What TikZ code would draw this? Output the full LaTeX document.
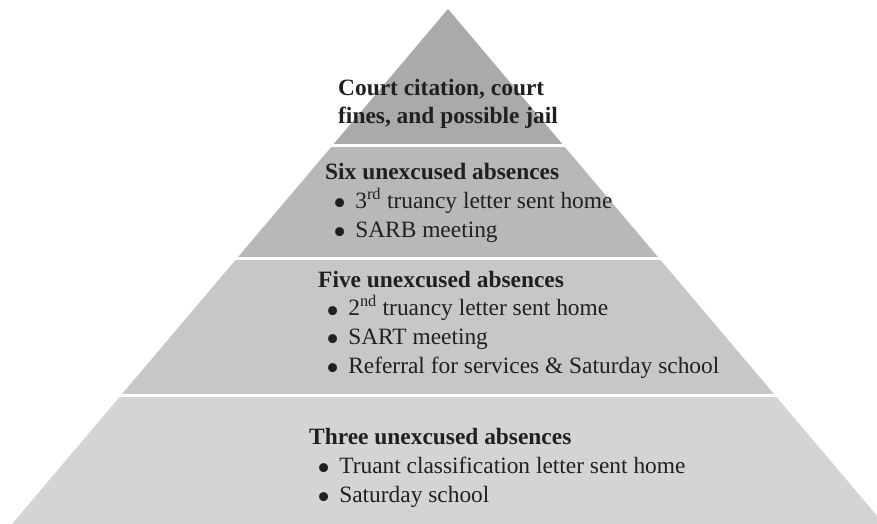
\documentclass[tikz,border=0pt]{standalone}
\usepackage{fontspec}
\setmainfont{Liberation Serif}
\definecolor{tierone}{RGB}{169,170,172}
\definecolor{tiertwo}{RGB}{183,184,186}
\definecolor{tierthree}{RGB}{198,199,201}
\definecolor{tierfour}{RGB}{211,212,214}
\definecolor{inktext}{RGB}{35,31,32}
\tikzset{tiertext/.style={anchor=base west, align=left, inner sep=0pt, text=inktext,
  font=\fontsize{23.4}{28.6}\selectfont}}
\newcommand{\pbullet}{\hspace*{8pt}\smash{\raisebox{-7.5pt}{\scalebox{1.6}{\textbullet}}}\hspace{9pt}}
\begin{document}
\begin{tikzpicture}[x=1pt,y=-1pt]
\useasboundingbox (0,0) rectangle (877,524);
% pyramid bands
\begin{scope}
\clip (448,9)--(12,524)--(884,524)--cycle;
\fill[tierone] (0,0) rectangle (877,144);
\fill[tiertwo] (0,147) rectangle (877,256.5);
\fill[tierthree] (0,259.5) rectangle (877,393.5);
\fill[tierfour] (0,396.5) rectangle (877,530);
\end{scope}
% texts (base = last line)
\node[tiertext, font=\fontsize{23.4}{28}\selectfont\bfseries] (court) at (338,123)
  {Court citation, court\\fines, and possible jail};
\node[tiertext] (six) at (325,237)
  {\textbf{Six unexcused absences}\\
   \pbullet 3\textsuperscript{rd} truancy letter sent home\\
   \pbullet SARB meeting};
\node[tiertext] (five) at (318,373)
  {\textbf{Five unexcused absences}\\
   \pbullet 2\textsuperscript{nd} truancy letter sent home\\
   \pbullet SART meeting\\
   \pbullet Referral for services \& Saturday school};
\node[tiertext] (three) at (309,502)
  {\textbf{Three unexcused absences}\\
   \pbullet Truant classification letter sent home\\
   \pbullet Saturday school};
\end{tikzpicture}
\end{document}
